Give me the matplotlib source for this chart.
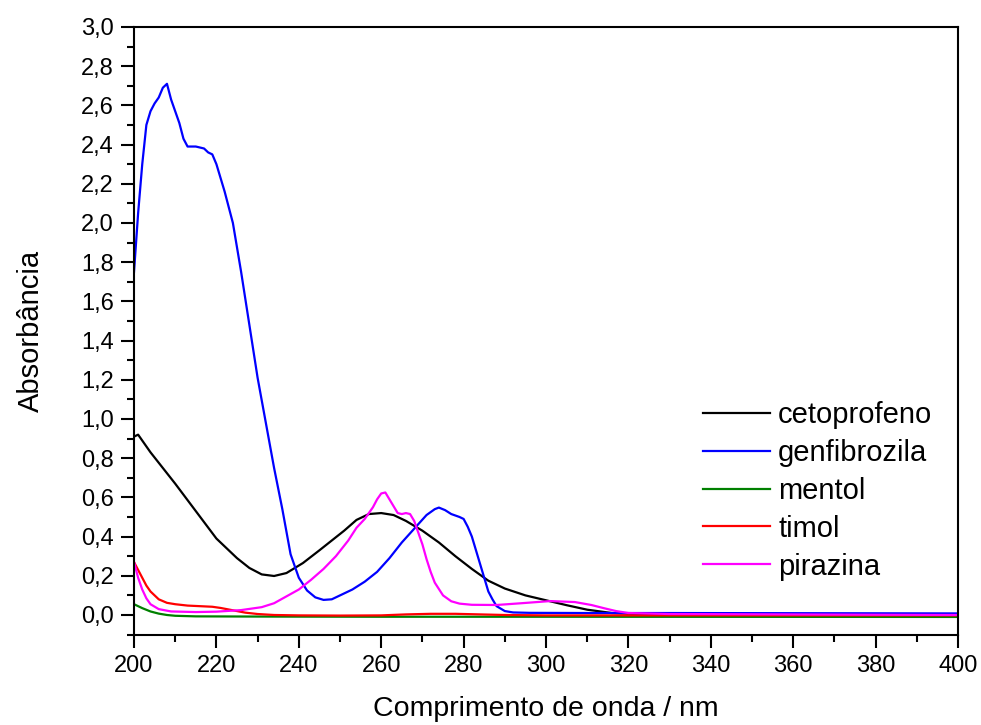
import numpy as np
import matplotlib
matplotlib.use("Agg")
import matplotlib.pyplot as plt
from matplotlib.ticker import MultipleLocator, FuncFormatter

plt.rcParams['font.family'] = ['Liberation Sans', 'DejaVu Sans']

# UV-Vis spectra, wavelength (nm) vs absorbance
x_ceto = [200, 201, 202, 204, 207, 210, 215, 220, 225, 228, 231, 234, 237, 241, 245, 248,
          251, 254, 257, 260, 263, 266, 270, 274, 278, 282, 286, 290, 295, 300, 305, 310,
          316, 322, 330, 350, 400]
y_ceto = [0.91, 0.92, 0.89, 0.83, 0.75, 0.67, 0.53, 0.39, 0.29, 0.24, 0.207, 0.199, 0.214,
          0.265, 0.33, 0.38, 0.43, 0.485, 0.515, 0.52, 0.51, 0.48, 0.43, 0.37, 0.30, 0.235,
          0.175, 0.135, 0.10, 0.075, 0.05, 0.027, 0.01, 0.005, 0.003, 0.002, 0.0]

x_genf = [200, 201, 202, 203, 204, 205, 206, 207, 208, 209, 210, 211, 212, 213, 215, 217,
          218, 219, 220, 221, 222, 224, 226, 228, 230, 232, 234, 236, 238, 240, 242, 244,
          246, 248, 250, 253, 256, 259, 262, 265, 268, 271, 273, 274, 275.5, 277, 279, 280,
          281, 282, 283, 284, 285, 286, 287, 288, 290, 292, 296, 310, 330, 400]
y_genf = [1.75, 2.05, 2.30, 2.50, 2.57, 2.61, 2.64, 2.69, 2.71, 2.63, 2.57, 2.51, 2.43, 2.39,
          2.39, 2.38, 2.36, 2.35, 2.30, 2.23, 2.16, 2.00, 1.75, 1.48, 1.21, 0.98, 0.75, 0.54,
          0.31, 0.19, 0.125, 0.09, 0.077, 0.08, 0.10, 0.13, 0.17, 0.22, 0.29, 0.37, 0.44,
          0.51, 0.54, 0.548, 0.535, 0.515, 0.50, 0.49, 0.45, 0.40, 0.33, 0.26, 0.19, 0.12,
          0.08, 0.045, 0.02, 0.013, 0.011, 0.01, 0.01, 0.008]

x_ment = [200, 202, 204, 206, 208, 210, 215, 230, 260, 300, 400]
y_ment = [0.055, 0.035, 0.018, 0.007, 0.0, -0.004, -0.007, -0.008, -0.009, -0.009, -0.01]

x_timo = [200, 201, 202, 203, 204, 206, 208, 210, 213, 216, 219, 221, 223, 225, 227, 230,
          234, 240, 250, 260, 266, 272, 278, 284, 290, 300, 400]
y_timo = [0.27, 0.23, 0.19, 0.15, 0.12, 0.08, 0.062, 0.055, 0.048, 0.045, 0.042, 0.036,
          0.028, 0.02, 0.012, 0.005, 0.0, -0.002, -0.003, -0.002, 0.003, 0.006, 0.006,
          0.003, 0.0, -0.002, -0.002]

x_pira = [200, 201, 202, 203, 204, 206, 209, 215, 220, 226, 231, 234, 237, 240, 243, 246,
          249, 252, 254, 256, 258, 259, 260, 261, 262, 263, 264, 265, 266, 267, 268, 269,
          270, 271, 272, 273, 275, 277, 279, 282, 288, 294, 301, 307, 311, 314, 317, 320,
          330, 400]
y_pira = [0.27, 0.19, 0.13, 0.085, 0.055, 0.03, 0.018, 0.015, 0.017, 0.025, 0.04, 0.06,
          0.095, 0.13, 0.18, 0.235, 0.30, 0.38, 0.445, 0.49, 0.55, 0.59, 0.62, 0.625, 0.59,
          0.555, 0.52, 0.515, 0.52, 0.515, 0.48, 0.42, 0.36, 0.285, 0.22, 0.165, 0.10,
          0.07, 0.058, 0.052, 0.051, 0.06, 0.071, 0.066, 0.051, 0.035, 0.02, 0.01, 0.005, 0.0]

series = [
    ("cetoprofeno", x_ceto, y_ceto, "#000000"),
    ("genfibrozila", x_genf, y_genf, "#0000ff"),
    ("mentol", x_ment, y_ment, "#008000"),
    ("timol", x_timo, y_timo, "#ff0000"),
    ("pirazina", x_pira, y_pira, "#ff00ff"),
]

fig = plt.figure(figsize=(9.81, 7.25), dpi=100)
ax = fig.add_axes([0.1366, 0.1247, 0.84, 0.8381])

for name, xs, ys, col in series:
    ax.plot(xs, ys, color=col, lw=1.6, label=name, solid_joinstyle='round')

ax.set_xlim(200, 400)
ax.set_ylim(-0.1, 3.0)
ax.xaxis.set_major_locator(MultipleLocator(20))
ax.xaxis.set_minor_locator(MultipleLocator(10))
ax.yaxis.set_major_locator(MultipleLocator(0.2))
ax.yaxis.set_minor_locator(MultipleLocator(0.1))
ax.yaxis.set_major_formatter(FuncFormatter(lambda v, p: f"{v:.1f}".replace('.', ',')))

ax.tick_params(which='major', direction='out', length=9.5, width=1.5, labelsize=17,
               pad=5, top=False, right=False)
ax.tick_params(which='minor', direction='out', length=5, width=1.5, top=False, right=False)
for s in ax.spines.values():
    s.set_linewidth(1.5)

ax.set_xlabel("Comprimento de onda / nm", fontsize=20.5, labelpad=14)
ax.set_ylabel("Absorbância", fontsize=21, labelpad=26)

fig.legend(loc='upper left', bbox_to_anchor=(0.7166, 0.447), frameon=False,
           fontsize=21, handlelength=2.3, handletextpad=0.28, labelspacing=0.34,
           borderpad=0, borderaxespad=0)

fig.savefig("out.png", dpi=100)
